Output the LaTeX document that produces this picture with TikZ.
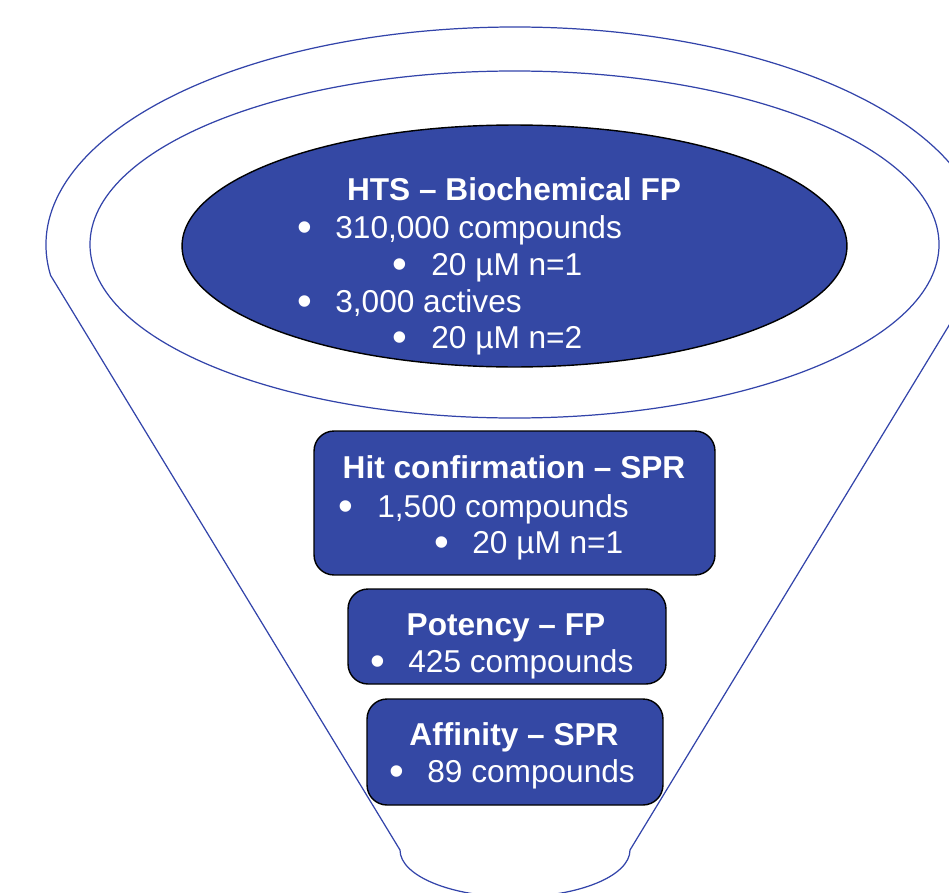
\documentclass[tikz,border=0pt]{standalone}
\usepackage{fontspec}
\setmainfont{Liberation Sans}
\usetikzlibrary{shapes.geometric}
\definecolor{funnelblue}{RGB}{52,72,164}
\definecolor{rimblue}{RGB}{51,68,170}

\begin{document}
\begin{tikzpicture}[x=0.02cm, y=-0.02cm,
    rim/.style={draw=rimblue, line width=0.7pt},
    stage/.style={draw=black, line width=0.8pt, fill=funnelblue, rounded corners=0.4cm, inner sep=0pt},
    head/.style={text=white, font=\fontsize{18}{21.6}\selectfont\bfseries, anchor=base, inner sep=0pt},
    item/.style={text=white, font=\fontsize{18}{21.6}\selectfont, anchor=base west, inner sep=0pt},
    dot/.style={text=white, font=\fontsize{24}{28}\selectfont, anchor=base, inner sep=0pt, yshift=-0.06cm}]
    \useasboundingbox (0,0) rectangle (949,892);
    \clip (0,0) rectangle (949,892);

    % funnel outline
    \draw[rim] (515,245) ++(172:469 and 218)
        arc[start angle=172, end angle=368, x radius=469, y radius=218]
        -- (630,850)
        arc[start angle=0, end angle=180, x radius=115, y radius=47]
        -- cycle;
    \draw[rim] (514.5,244.5) ellipse [x radius=424.5, y radius=173.5];

    % HTS
    \node[ellipse, draw=black, fill=funnelblue, line width=0.8pt, inner sep=0pt, minimum width=13.3cm, minimum height=4.84cm] (hts) at (514.5,246) {};
    \node[head] (htsT) at (514,200) {HTS -- Biochemical FP};
    \node[dot] (htsB1) at (305,238) {\textbullet};
    \node[item] (htsL1) at (335,238) {310,000 compounds};
    \node[dot] (htsB2) at (400,275) {\textbullet};
    \node[item] (htsL2) at (431,275) {20 µM n=1};
    \node[dot] (htsB3) at (305,312) {\textbullet};
    \node[item] (htsL3) at (335,312) {3,000 actives};
    \node[dot] (htsB4) at (400,348) {\textbullet};
    \node[item] (htsL4) at (431,348) {20 µM n=2};

    % hit confirmation
    \node[stage, minimum width=8.02cm, minimum height=2.88cm] (hit) at (514.5,503) {};
    \node[head] (hitT) at (514,478) {Hit confirmation -- SPR};
    \node[dot] (hitB1) at (346,517) {\textbullet};
    \node[item] (hitL1) at (377,517) {1,500 compounds};
    \node[dot] (hitB2) at (442,553) {\textbullet};
    \node[item] (hitL2) at (472,553) {20 µM n=1};

    % potency
    \node[stage, minimum width=6.36cm, minimum height=1.9cm] (pot) at (507,636.5) {};
    \node[head] (potT) at (506,635) {Potency -- FP};
    \node[dot] (potB1) at (378,672) {\textbullet};
    \node[item] (potL1) at (408,672) {425 compounds};

    % affinity
    \node[stage, minimum width=5.92cm, minimum height=2.12cm] (aff) at (515,752) {};
    \node[head] (affT) at (514,745) {Affinity -- SPR};
    \node[dot] (affB1) at (397,782) {\textbullet};
    \node[item] (affL1) at (427,782) {89 compounds};
\end{tikzpicture}
\end{document}
